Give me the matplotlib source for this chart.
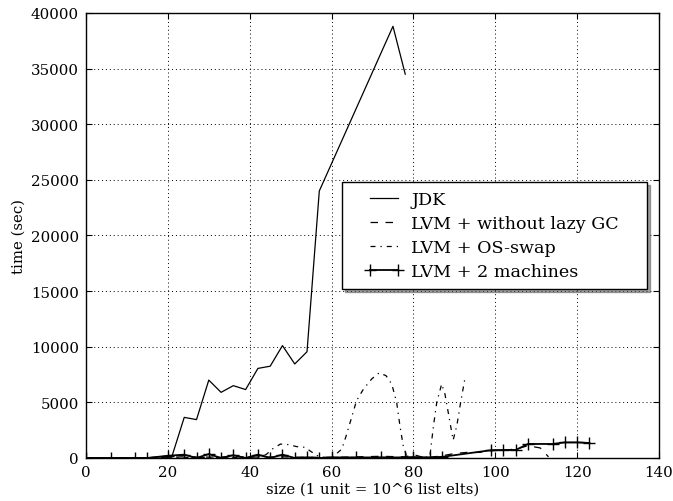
import matplotlib
matplotlib.use("Agg")
import matplotlib.pyplot as plt
from matplotlib.legend_handler import HandlerLine2D

plt.rcParams['font.family'] = ['DejaVu Serif']

# JDK
jdk_x = [0, 3, 6, 9, 12, 15, 18, 21, 24, 27, 30, 33, 36, 39, 42, 45, 48, 51, 54, 57, 75, 78]
jdk_y = [0, 0, 0, 0, 0, 20, 100, 150, 3650, 3450, 7000, 5900, 6500, 6150, 8050, 8250, 10100, 8450, 9550, 24000, 38800, 34500]

# LVM + without lazy GC
gc_x = [0, 6, 12, 18, 24, 30, 36, 42, 48, 54, 60, 66, 72, 78, 80, 83, 87, 90, 93, 96, 99, 102, 105, 108, 111, 113]
gc_y = [0, 0, 0, 50, 100, 80, 100, 80, 100, 60, 50, 100, 150, 100, 300, 0, 200, 400, 500, 500, 650, 700, 800, 1100, 900, 100]

# LVM + OS-swap
sw_x = [0, 6, 12, 18, 24, 30, 36, 42, 44, 45.5, 47.5, 49.5, 51.5, 53.5, 55, 57, 60, 62.5, 63.7, 64.9, 66.1, 67.8, 69.8,
        71.6, 73.3, 74.7, 75.9, 76.7, 77.5, 78.5, 81, 84, 84.9, 85.7, 86.9, 87.7, 88.5, 89.7, 90.6, 91.4, 92.6]
sw_y = [0, 0, 0, 0, 50, 50, 50, 100, 300, 800, 1250, 1200, 1020, 960, 570, 100, 0, 800, 2150, 3650, 5150, 6200, 7100,
        7650, 7400, 6650, 5000, 2900, 1100, 0, 0, 100, 2900, 5000, 6650, 5750, 4100, 1600, 2900, 4700, 7200]

# LVM + 2 machines
m2_x = [0, 6, 12, 15, 20, 24, 27, 30, 33, 36, 39, 42, 45, 48, 51, 54, 57, 60, 66, 72, 78, 80, 84, 87, 99, 102, 105, 108,
        114, 117, 120, 123]
m2_y = [0, 0, 0, 0, 200, 300, 0, 350, 0, 250, 0, 300, 0, 300, 0, 50, 0, 50, 50, 50, 50, 80, 50, 100, 700, 720, 720, 1260,
        1260, 1400, 1400, 1350]

labels = ['JDK', 'LVM + without lazy GC', 'LVM + OS-swap', 'LVM + 2 machines']
xlabel = 'size (1 unit = 10^6 list elts)'
ylabel = 'time (sec)'

fig = plt.figure(figsize=(6.73, 5.02), dpi=100)
renderer = fig.canvas.get_renderer()


def size_for(s, target_px, base=10.0):
    t = fig.text(0, 0, s, fontsize=base)
    w = t.get_window_extent(renderer).width
    t.remove()
    return base * target_px / w


tick_fs = size_for('40000', 47.5)
lab_fs = size_for(xlabel, 211)
leg_fs = size_for(labels[1], 207)
fs = leg_fs * 100 / 72.0  # legend font size in px

ax = fig.add_axes([0.1278, 0.0857, 0.8514, 0.8865])

l1, = ax.plot(jdk_x, jdk_y, color='black', lw=0.9, ls='-')
l2, = ax.plot(gc_x, gc_y, color='black', lw=0.9, ls=(0, (6, 6)))
l3, = ax.plot(sw_x, sw_y, color='black', lw=0.9, ls=(0, (4, 4, 1, 4)))
l4, = ax.plot(m2_x, m2_y, color='black', lw=1.3, ls='-', marker='+', ms=9, mew=1.0)

ax.set_xlim(0, 140)
ax.set_ylim(0, 40000)
ax.set_xticks(range(0, 141, 20))
ax.set_yticks(range(0, 40001, 5000))
ax.grid(True, color='black', ls=(0, (1, 3)), lw=0.7)
ax.tick_params(direction='in', top=True, right=True, labelsize=tick_fs, length=4, pad=5)
for s in ax.spines.values():
    s.set_linewidth(1.0)

ax.set_xlabel(xlabel, fontsize=lab_fs, labelpad=2)
ax.set_ylabel(ylabel, fontsize=lab_fs, labelpad=4)

# legend geometry (pixels): box 342..647, handle line 370..398, text from 411
bp_px = 8.5
mp = 0.3 * fs
borderpad = bp_px / fs
xpad = (370 - 342 - bp_px - mp) / fs
handlelength = (398 - 342 - bp_px + mp) / fs
handletextpad = (411 - 398 - mp) / fs
labelspacing = (26.1 - 1.08 * fs) / fs

hmap = {h: HandlerLine2D(xpad=xpad) for h in (l1, l2, l3, l4)}
leg = ax.legend([l1, l2, l3, l4], labels, loc='center', mode='expand',
                bbox_to_anchor=(0.4468, 0.3, 0.5322, 0.4), borderaxespad=0,
                fontsize=leg_fs, shadow=True, fancybox=False, numpoints=2,
                handlelength=handlelength, handletextpad=handletextpad,
                labelspacing=labelspacing, borderpad=borderpad, handler_map=hmap)
leg.get_frame().set_edgecolor('black')
leg.get_frame().set_linewidth(1.0)

fig.savefig('out.png', dpi=100)
